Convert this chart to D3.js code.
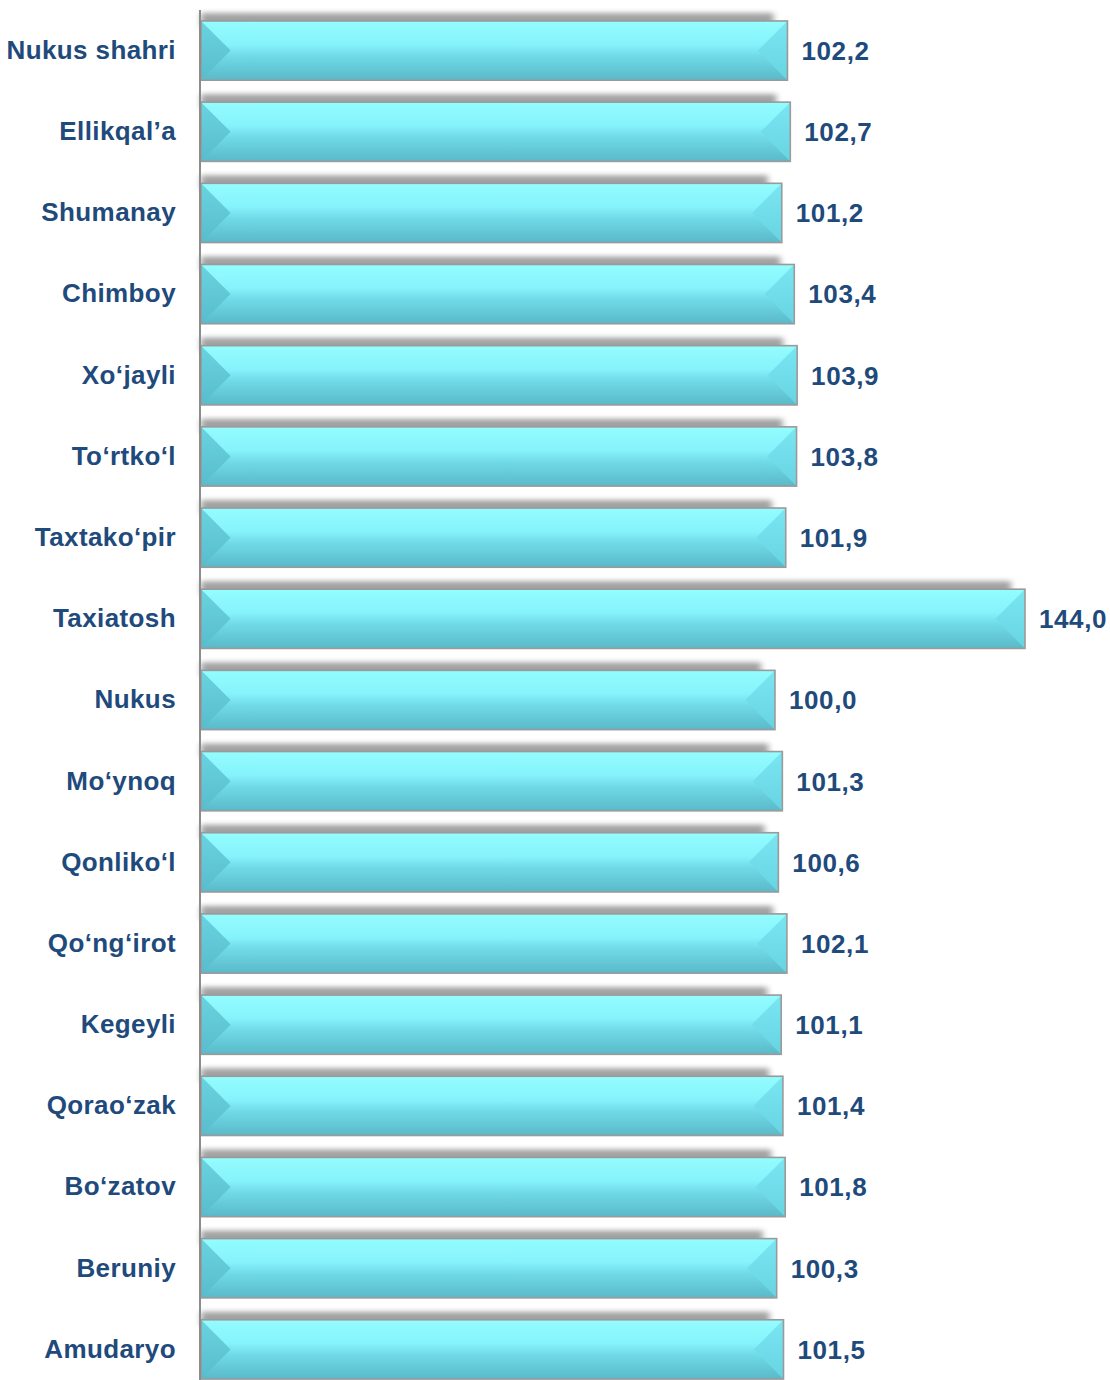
<!DOCTYPE html>
<html>
<head>
<meta charset="utf-8">
<script src="https://cdn.jsdelivr.net/npm/d3@7"></script>
<style>
  html, body { margin: 0; padding: 0; background: #ffffff; }
  svg { display: block; }
</style>
</head>
<body>
<svg id="chart" width="1110" height="1380"></svg>
<script>
const categories = ["Nukus shahri","Ellikqal’a","Shumanay","Chimboy","Xo‘jayli","To‘rtko‘l","Taxtako‘pir","Taxiatosh","Nukus","Mo‘ynoq","Qonliko‘l","Qo‘ng‘irot","Kegeyli","Qorao‘zak","Bo‘zatov","Beruniy","Amudaryo"];
const values = [102.2,102.7,101.2,103.4,103.9,103.8,101.9,144.0,100.0,101.3,100.6,102.1,101.1,101.4,101.8,100.3,101.5];
const valueLabels = ["102,2","102,7","101,2","103,4","103,9","103,8","101,9","144,0","100,0","101,3","100,6","102,1","101,1","101,4","101,8","100,3","101,5"];

const data = categories.map((c, i) => ({ cat: c, val: values[i], lab: valueLabels[i] }));

const svg = d3.select("#chart");
const textColor = "#1f4a7c";
const font = "'Liberation Sans', Arial, sans-serif";

const x = d3.scaleLinear().domain([-1, 144]).range([201, 1025]);
const x0 = x.range()[0];
const y = d3.scaleBand().domain(categories).range([10, 1390]).paddingInner(0.27).paddingOuter(0.135);

const defs = svg.append("defs");
const g1 = defs.append("linearGradient").attr("id", "barGrad").attr("x1", 0).attr("y1", 0).attr("x2", 0).attr("y2", 1);
g1.append("stop").attr("offset", "0%").attr("stop-color", "#93fdff");
g1.append("stop").attr("offset", "40%").attr("stop-color", "#86f2fb");
g1.append("stop").attr("offset", "60%").attr("stop-color", "#6fd9e6");
g1.append("stop").attr("offset", "100%").attr("stop-color", "#5ab9c9");

const gl = defs.append("linearGradient").attr("id", "leftGrad").attr("x1", 0).attr("y1", 0).attr("x2", 0).attr("y2", 1);
gl.append("stop").attr("offset", "0%").attr("stop-color", "#6ad3e0");
gl.append("stop").attr("offset", "100%").attr("stop-color", "#58bccb");

const gr = defs.append("linearGradient").attr("id", "rightGrad").attr("x1", 0).attr("y1", 0).attr("x2", 0).attr("y2", 1);
gr.append("stop").attr("offset", "0%").attr("stop-color", "#7ae6f2");
gr.append("stop").attr("offset", "100%").attr("stop-color", "#68d4e2");

const blur = defs.append("filter").attr("id", "shadowBlur").attr("x", "-20%").attr("y", "-100%").attr("width", "140%").attr("height", "300%");
blur.append("feGaussianBlur").attr("stdDeviation", "3 2.5");

const bh = y.bandwidth();
const bev = bh * 0.5;

const rows = svg.append("g").selectAll("g.row").data(data).join("g").attr("class", "row");

// shadow above bar
rows.append("rect")
  .attr("x", x0)
  .attr("y", d => y(d.cat) - 8)
  .attr("width", d => x(d.val) - x0 - 14)
  .attr("height", 14)
  .attr("fill", "#7a7a7a")
  .attr("opacity", 0.7)
  .attr("filter", "url(#shadowBlur)");

// main bar
rows.append("rect")
  .attr("x", x0)
  .attr("y", d => y(d.cat))
  .attr("width", d => x(d.val) - x0)
  .attr("height", bh)
  .attr("fill", "url(#barGrad)");

// left bevel
rows.append("path")
  .attr("d", d => {
    const y0 = y(d.cat);
    return `M${x0},${y0}L${x0 + bev},${y0 + bh / 2}L${x0},${y0 + bh}Z`;
  })
  .attr("fill", "url(#leftGrad)");

// right bevel
rows.append("path")
  .attr("d", d => {
    const x1 = x(d.val), y0 = y(d.cat);
    return `M${x1},${y0}L${x1 - bev},${y0 + bh / 2}L${x1},${y0 + bh}Z`;
  })
  .attr("fill", "url(#rightGrad)");

// outline
rows.append("rect")
  .attr("x", x0)
  .attr("y", d => y(d.cat))
  .attr("width", d => x(d.val) - x0)
  .attr("height", bh)
  .attr("fill", "none")
  .attr("stroke", "#9a9a9a")
  .attr("stroke-width", 1.6);

// value labels
rows.append("text")
  .attr("x", d => x(d.val) + 14)
  .attr("y", d => y(d.cat) + bh / 2)
  .attr("dy", "0.36em")
  .attr("font-family", font)
  .attr("font-weight", "bold")
  .attr("font-size", 26)
  .attr("letter-spacing", 0.6)
  .attr("fill", textColor)
  .text(d => d.lab);

// category axis
const axis = d3.axisLeft(y).tickSize(0).tickPadding(24);
const ax = svg.append("g").attr("transform", `translate(200,0)`).call(axis);
ax.select(".domain").remove();
ax.selectAll("text")
  .attr("font-family", font)
  .attr("font-weight", "bold")
  .attr("font-size", 26)
  .attr("letter-spacing", 0.4)
  .attr("fill", textColor);

svg.append("line")
  .attr("x1", 200).attr("x2", 200)
  .attr("y1", 10).attr("y2", 1380)
  .attr("stroke", "#8c8c8c")
  .attr("stroke-width", 2);
</script>
</body>
</html>
